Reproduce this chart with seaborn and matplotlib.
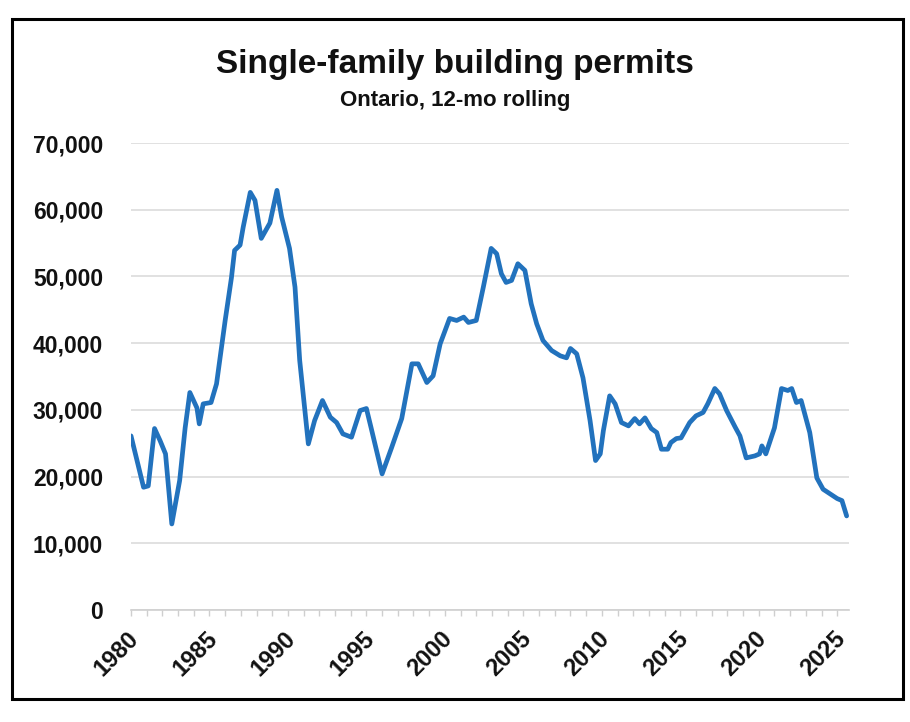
import matplotlib
matplotlib.use("Agg")
import matplotlib.pyplot as plt
import matplotlib.patches as mpatches
import matplotlib.transforms as mtransforms
from matplotlib.ticker import FuncFormatter, MultipleLocator
import seaborn as sns
import pandas as pd

# Time (decimal year) and 12-month rolling single-family permits
time = [1980.0, 1980.8, 1981.1, 1981.5, 1981.85, 1982.2, 1982.6, 1983.1, 1983.45, 1983.75,
        1984.2, 1984.35, 1984.6, 1985.1, 1985.45, 1986.0, 1986.4, 1986.6, 1986.95, 1987.15,
        1987.6, 1987.9, 1988.3, 1988.85, 1989.3, 1989.6, 1990.1, 1990.45, 1990.75, 1991.3,
        1991.7, 1992.2, 1992.7, 1993.1, 1993.5, 1994.05, 1994.6, 1995.0, 1995.3, 1996.0,
        1996.6, 1997.25, 1997.9, 1998.3, 1998.85, 1999.25, 1999.7, 2000.3, 2000.75, 2001.2,
        2001.5, 2002.0, 2002.45, 2002.95, 2003.3, 2003.6, 2003.9, 2004.25, 2004.65, 2005.1,
        2005.5, 2005.85, 2006.25, 2006.8, 2007.35, 2007.75, 2008.0, 2008.4, 2008.8, 2009.25,
        2009.6, 2009.9, 2010.1, 2010.5, 2010.85, 2011.25, 2011.7, 2012.1, 2012.4, 2012.75,
        2013.15, 2013.5, 2013.8, 2014.2, 2014.4, 2014.75, 2015.05, 2015.6, 2016.0, 2016.45,
        2016.75, 2017.2, 2017.5, 2017.95, 2018.5, 2018.8, 2019.2, 2019.75, 2020.05, 2020.2,
        2020.45, 2021.0, 2021.45, 2021.85, 2022.1, 2022.4, 2022.7, 2023.25, 2023.7, 2024.1,
        2024.55, 2025.0, 2025.3, 2025.6]
permits = [26100, 18400, 18600, 27200, 25400, 23400, 12900, 19400, 27300, 32600,
           30300, 27900, 30900, 31100, 33900, 43400, 49800, 53900, 54700, 57400,
           62600, 61400, 55700, 58000, 62900, 58900, 54200, 48400, 37400, 24900,
           28400, 31400, 28900, 28100, 26400, 25900, 29900, 30200, 27300, 20400,
           24300, 28700, 36900, 36900, 34100, 35100, 39900, 43700, 43400, 43900,
           43100, 43400, 48400, 54200, 53400, 50400, 49100, 49400, 51900, 50900,
           45900, 42900, 40400, 38900, 38100, 37800, 39200, 38400, 34800, 28400,
           22400, 23400, 26900, 32100, 30900, 28100, 27600, 28700, 27900, 28800,
           27200, 26600, 24100, 24100, 25100, 25700, 25800, 28100, 29100, 29600,
           30900, 33200, 32400, 29900, 27400, 26100, 22800, 23100, 23400, 24600,
           23400, 27300, 33200, 32900, 33200, 31100, 31400, 26600, 19800, 18100,
           17400, 16700, 16400, 14100]
year_ticks = [1980, 1985, 1990, 1995, 2000, 2005, 2010, 2015, 2020, 2025]
title = "Single-family building permits"
subtitle = "Ontario, 12-mo rolling"

df = pd.DataFrame({"time": time, "permits": permits})

sns.set_theme(style="white")
FAM = ["Liberation Sans", "DejaVu Sans"]
plt.rcParams["font.family"] = FAM

fig = plt.figure(figsize=(9.1, 7.22), dpi=100)
fig.patch.set_facecolor("white")
ax = fig.add_axes([131/910, 1-610/722, (849-131)/910, (610-143)/722])

sns.lineplot(data=df, x="time", y="permits", ax=ax, sort=False,
             color="#2272bd", linewidth=3.4, zorder=3)

ax.set_xlim(1980, 2025.75)
ax.set_ylim(0, 70000)
ax.yaxis.set_major_locator(MultipleLocator(10000))
ax.yaxis.set_major_formatter(FuncFormatter(lambda v, p: f"{int(v):,}"))
ax.set_xticks(year_ticks)
ax.xaxis.set_minor_locator(MultipleLocator(1))
ax.tick_params(axis="x", which="both", direction="out", length=4, width=1,
               color="#cfcfcf", bottom=True, pad=8, labelsize=17,
               labelcolor="#111111")
ax.tick_params(axis="y", length=0, pad=20, labelsize=16.5, labelcolor="#111111")
ax.set_xticklabels([str(y) for y in year_ticks], rotation=45, ha="right",
                   va="top", rotation_mode="anchor", fontsize=17,
                   fontweight="bold")
shift = mtransforms.ScaledTranslation(-4/100, 0, fig.dpi_scale_trans)
for lab in ax.get_xticklabels():
    lab.set_transform(lab.get_transform() + shift)
for lab in ax.get_yticklabels():
    lab.set_fontweight("bold")

ax.grid(axis="y", color="#dcdcdc", linewidth=1.2)
ax.grid(axis="x", visible=False)
for s in ["top", "right", "left"]:
    ax.spines[s].set_visible(False)
ax.spines["bottom"].set_color("#cfcfcf")
ax.spines["bottom"].set_linewidth(1.2)
ax.set_xlabel("")
ax.set_ylabel("")

fig.text(0.5, 1-73/722, title, ha="center", va="baseline", fontsize=24,
         fontweight="bold", family=FAM, color="#111111")
fig.text(0.5, 1-106/722, subtitle, ha="center", va="baseline", fontsize=16,
         fontweight="bold", family=FAM, color="#111111")

frame = mpatches.Rectangle((12/910, 1-699/722), (903-12)/910, (699-19)/722,
                           transform=fig.transFigure, fill=False,
                           edgecolor="black", linewidth=2.2, zorder=10)
fig.patches.append(frame)

fig.savefig("out.png", dpi=100)
